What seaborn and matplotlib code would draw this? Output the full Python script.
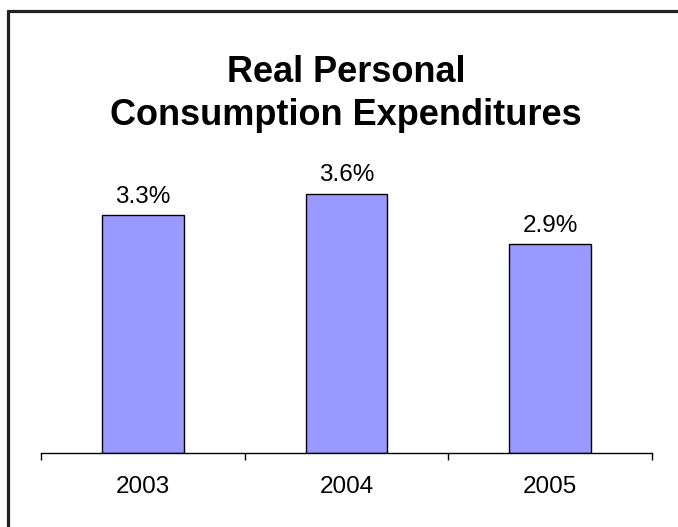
import matplotlib
matplotlib.use("Agg")
import matplotlib.pyplot as plt
from matplotlib.lines import Line2D
import pandas as pd
import seaborn as sns

# data
years = ["2003", "2004", "2005"]
growth = [3.3, 3.6, 2.9]
bar_labels = ["3.3%", "3.6%", "2.9%"]

df = pd.DataFrame({"year": years, "growth": growth})

sns.set_style("white")
plt.rcParams["font.family"] = ["Liberation Sans", "DejaVu Sans"]
plt.rcParams["text.color"] = "black"
plt.rcParams["xtick.color"] = "black"

fig = plt.figure(figsize=(6.78, 5.27), dpi=100)
ax = fig.add_axes([0.0605, 0.1404, 0.9012, 0.5465])

sns.barplot(data=df, x="year", y="growth", color="#9999FF", saturation=1,
            width=0.4, edgecolor="black", linewidth=1, ax=ax)
ax.bar_label(ax.containers[0], labels=bar_labels, padding=5.5, fontsize=17.5,
             color="black")

ax.set_ylim(0, 4)
ax.set_xlim(-0.5, 2.5)
ax.set_xlabel("")
ax.set_ylabel("")
ax.set_yticks([])
for s in ["top", "right", "left"]:
    ax.spines[s].set_visible(False)
ax.spines["bottom"].set_color("black")
ax.spines["bottom"].set_linewidth(1)
ax.set_xticks([-0.5, 0.5, 1.5, 2.5], minor=True)
ax.tick_params(axis="x", which="minor", direction="out", length=5, width=1,
               color="black", bottom=True)
ax.tick_params(axis="x", which="major", length=0, pad=16.5, labelsize=17.5,
               labelcolor="black")

fig.text(0.51, 1 - 94 / 527, "Real Personal\nConsumption Expenditures",
         ha="center", va="center", fontsize=26, fontweight="bold",
         linespacing=1.3, color="black")

# frame: top and left edge only
fig.add_artist(Line2D([8.3 / 678, 1], [1 - 11 / 527, 1 - 11 / 527],
                      transform=fig.transFigure, color="#222222", lw=2.3))
fig.add_artist(Line2D([8.3 / 678, 8.3 / 678], [0, 1 - 11 / 527],
                      transform=fig.transFigure, color="#222222", lw=2.3))

fig.savefig("out.png", dpi=100)
